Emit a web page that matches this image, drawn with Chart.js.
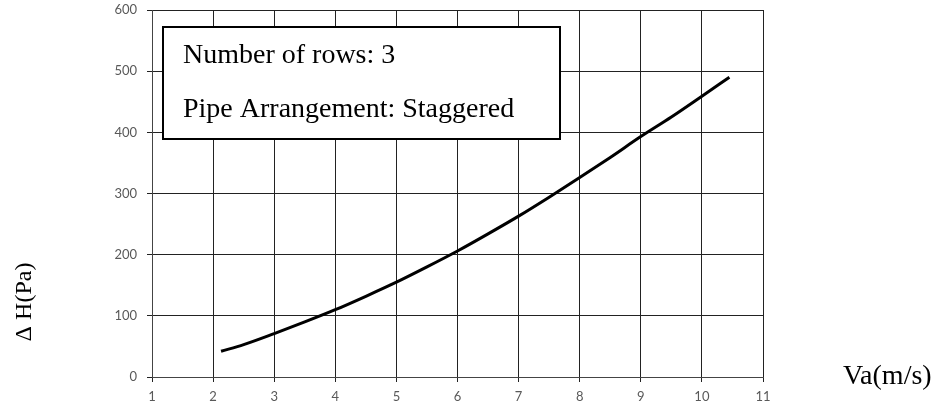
<!DOCTYPE html>
<html>
<head>
<meta charset="utf-8">
<script src="https://cdn.jsdelivr.net/npm/chart.js@4"></script>
<style>
html,body{margin:0;padding:0;background:#fff;}
#wrap{position:relative;width:937px;height:405px;}
</style>
</head>
<body>
<div id="wrap"><canvas id="c" width="937" height="405"></canvas></div>
<script>
const velocities = [2.13, 2.5, 3, 3.5, 4, 4.5, 5, 5.5, 6, 6.5, 7, 7.5, 8, 8.5, 9, 9.5, 10, 10.45];
const pressureDrop = [42, 53, 71, 90, 110, 132, 155, 180, 206, 234, 263, 294, 326, 359, 393, 425, 459, 490];
const xTicks = [1, 2, 3, 4, 5, 6, 7, 8, 9, 10, 11];
const yTicks = [0, 100, 200, 300, 400, 500, 600];
const xTitle = 'Va(m/s)';
const yTitle = 'Δ H(Pa)';
const noteLines = ['Number of rows: 3', 'Pipe Arrangement: Staggered'];

const points = velocities.map((v, i) => ({x: v, y: pressureDrop[i]}));

const overlay = {
  id: 'overlay',
  afterDraw(chart) {
    const ctx = chart.ctx;
    ctx.save();
    // annotation box
    const bx = 163, by = 27, bw = 397, bh = 112;
    ctx.fillStyle = '#fff';
    ctx.fillRect(bx, by, bw, bh);
    ctx.lineWidth = 2;
    ctx.strokeStyle = '#000';
    ctx.strokeRect(bx, by, bw, bh);
    ctx.fillStyle = '#000';
    ctx.font = '28px "Liberation Serif", "Times New Roman", serif';
    ctx.textAlign = 'left';
    ctx.textBaseline = 'alphabetic';
    ctx.fillText(noteLines[0], 183, 63);
    ctx.fillText(noteLines[1], 183, 117);
    // x title
    ctx.font = '28px "Liberation Serif", "Times New Roman", serif';
    ctx.fillText(xTitle, 843, 384);
    // y title rotated
    ctx.font = '24px "Liberation Serif", "Times New Roman", serif';
    ctx.translate(31, 302);
    ctx.rotate(-Math.PI / 2);
    ctx.textAlign = 'center';
    ctx.fillText(yTitle, 0, 0);
    ctx.restore();
  }
};

new Chart(document.getElementById('c'), {
  type: 'scatter',
  data: {
    datasets: [{
      data: points,
      showLine: true,
      borderColor: '#000',
      borderWidth: 3,
      pointRadius: 0,
      cubicInterpolationMode: 'monotone',
      fill: false
    }]
  },
  options: {
    responsive: false,
    animation: false,
    layout: {padding: {left: 0, right: 174, top: 10, bottom: 0}},
    plugins: {legend: {display: false}, tooltip: {enabled: false}},
    scales: {
      x: {
        type: 'linear', min: 1, max: 11,
        afterBuildTicks(s) { s.ticks = xTicks.map(v => ({value: v})); },
        afterFit(s) { s.height = 28; s.paddingLeft = 0; s.paddingRight = 0; },
        grid: {color: '#222', lineWidth: 1, tickLength: 5, tickColor: '#222'},
        border: {color: '#444', width: 1},
        ticks: {color: '#595959', font: {size: 13, family: 'Lato, "Open Sans", sans-serif'}, padding: 7, maxRotation: 0}
      },
      y: {
        type: 'linear', min: 0, max: 600,
        afterBuildTicks(s) { s.ticks = yTicks.map(v => ({value: v})); },
        afterFit(s) { s.width = 152; s.paddingTop = 0; s.paddingBottom = 0; },
        grid: {color: '#222', lineWidth: 1, tickLength: 5, tickColor: '#222'},
        border: {color: '#444', width: 1},
        ticks: {color: '#595959', font: {size: 13, family: 'Lato, "Open Sans", sans-serif'}, padding: 10}
      }
    }
  },
  plugins: [overlay]
});
</script>
</body>
</html>
